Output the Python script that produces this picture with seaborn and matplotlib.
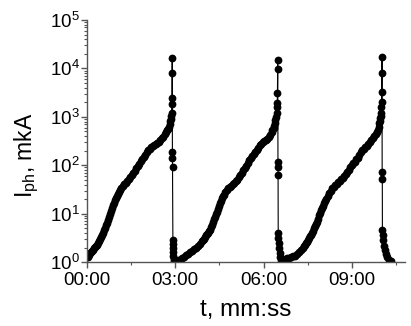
import numpy as np
import pandas as pd
import matplotlib
matplotlib.use("Agg")
import matplotlib.pyplot as plt
import matplotlib.ticker as mticker
import seaborn as sns

# ---- data: time in seconds, photocurrent given as log10(I / mkA) ----
t1 = [0, 2.0, 4.1, 6.1, 8.1, 10.2, 12.2, 14.2, 16.3, 18.3, 20.3, 22.4, 24.4, 26.4, 28.5, 30.5,
      32.5, 34.6, 36.6, 38.6, 40.7, 42.7, 44.7, 46.8, 48.8, 50.9, 52.9, 54.9, 57.0, 59.0, 61.0,
      63.1, 65.1, 67.1, 70.2, 73.2, 76.3, 79.3, 82.4, 85.4, 88.5, 91.5, 94.6, 97.6, 100.7, 103.7,
      106.8, 109.8, 112.9, 115.9, 119.0, 122.0, 125.1, 128.1, 131.2, 134.2, 137.3, 140.3, 143.4,
      146.4, 149.5, 152.5, 155.6, 158.7, 160.7, 162.7, 164.8, 166.8, 168.8, 169.8, 170.9, 171.9,
      172.9,
      173.2, 173.4, 173.6, 173.8,
      174.0, 174.2, 174.4,
      175.0, 175.2, 175.4, 175.6, 175.8, 176.5, 178.0]
log_i1 = [0.10, 0.11, 0.14, 0.18, 0.21, 0.23, 0.26, 0.29, 0.32, 0.34, 0.36, 0.39, 0.43, 0.47, 0.52, 0.57,
          0.61, 0.66, 0.70, 0.76, 0.80, 0.86, 0.93, 0.99, 1.05, 1.11, 1.18, 1.23, 1.28, 1.33, 1.37,
          1.41, 1.45, 1.48, 1.53, 1.57, 1.61, 1.64, 1.67, 1.71, 1.75, 1.79, 1.84, 1.89, 1.94, 1.98,
          2.02, 2.08, 2.12, 2.18, 2.22, 2.27, 2.31, 2.34, 2.37, 2.40, 2.42, 2.44, 2.46,
          2.48, 2.52, 2.56, 2.59, 2.64, 2.68, 2.72, 2.75, 2.80, 2.86, 2.91, 2.96, 3.01,
          3.07,
          3.26, 3.38, 3.90, 4.21,
          2.27, 2.14, 1.96,
          0.45, 0.37, 0.29, 0.21, 0.12, 0.06, 0.02]

t2 = [181.0, 185.1, 189.2, 193.2, 197.3, 201.4, 205.4, 209.5, 213.6, 217.6, 221.7, 225.8, 229.8,
      233.9, 235.9, 238.0, 240.0, 242.0, 244.1, 246.1, 248.1, 250.2, 252.2, 254.2, 256.3, 258.3,
      260.4, 262.4, 264.4, 266.5, 268.5, 270.5, 272.6, 274.6, 276.6, 278.7, 281.7, 284.8, 287.8,
      290.9, 293.9, 297.0, 300.0, 303.1, 306.1, 309.2, 312.2, 315.3, 318.3, 321.4, 324.4, 327.5,
      330.5, 333.6, 336.6, 339.7, 342.7, 345.8, 348.8, 351.9, 354.9, 358.0, 361.0, 364.1, 367.1,
      370.2, 373.2, 376.3, 378.3, 380.4, 382.4, 383.4, 384.4, 385.4, 386.5,
      387.8, 388.1, 388.4, 388.7, 389.0,
      389.3, 389.5, 389.7,
      390.0, 390.5, 391.0, 392.0, 393.0, 394.5, 396.0]
log_i2 = [0.02, 0.04, 0.05, 0.08, 0.11, 0.14, 0.16, 0.20, 0.23, 0.27, 0.30, 0.34, 0.38,
          0.43, 0.45, 0.48, 0.52, 0.55, 0.58, 0.61, 0.64, 0.67, 0.72, 0.77, 0.82, 0.88,
          0.93, 0.99, 1.04, 1.09, 1.15, 1.22, 1.27, 1.32, 1.36, 1.39, 1.44, 1.48, 1.52,
          1.55, 1.58, 1.61, 1.64, 1.67, 1.70, 1.75, 1.79, 1.85, 1.90, 1.94, 1.99, 2.04,
          2.10, 2.14, 2.19, 2.23, 2.27, 2.31, 2.36, 2.41, 2.44, 2.47, 2.51, 2.53, 2.55,
          2.58, 2.62, 2.68, 2.72, 2.76, 2.82, 2.87, 2.93, 2.99, 3.07,
          3.20, 3.28, 3.49, 3.98, 4.17,
          2.06, 1.96, 1.79,
          0.60, 0.50, 0.39, 0.29, 0.19, 0.10, 0.04]

t3 = [400.7, 404.8, 408.8, 412.9, 417.0, 421.0, 425.1, 429.2, 433.2, 437.3, 440.4, 443.4, 445.5,
      447.5, 449.5, 451.5, 453.6, 455.6, 457.7, 459.7, 461.7, 463.8, 465.8, 467.8, 469.9, 471.9,
      473.9, 476.0, 478.0, 480.0, 482.1, 484.1, 486.1, 488.2, 491.2, 494.3, 497.3, 500.4, 503.4,
      506.5, 509.5, 512.6, 515.6, 518.7, 521.7, 524.8, 527.8, 530.9, 533.9, 537.0, 540.0, 543.1,
      546.1, 549.2, 552.2, 555.3, 558.3, 561.4, 564.4, 567.5, 570.5, 573.6, 576.6, 579.7, 582.7,
      585.8, 588.8, 590.9, 592.9, 594.9, 595.9, 597.0, 598.0, 599.0, 600.0,
      600.5, 600.8, 601.1, 601.4, 601.7,
      602.0, 602.3,
      602.5, 603.5, 604.5, 606.0, 607.5, 609.0, 611.0, 615.0, 620.0]
log_i3 = [0.04, 0.06, 0.08, 0.09, 0.10, 0.12, 0.13, 0.16, 0.21, 0.25, 0.29, 0.33, 0.36,
          0.39, 0.42, 0.45, 0.49, 0.53, 0.56, 0.60, 0.65, 0.70, 0.74, 0.78, 0.82, 0.90,
          0.97, 1.02, 1.07, 1.11, 1.16, 1.22, 1.27, 1.31, 1.36, 1.42, 1.47, 1.52, 1.56,
          1.59, 1.62, 1.65, 1.68, 1.71, 1.74, 1.77, 1.81, 1.86, 1.90, 1.96, 2.00, 2.04,
          2.07, 2.12, 2.16, 2.22, 2.27, 2.31, 2.34, 2.37, 2.40, 2.44, 2.48, 2.53, 2.56,
          2.60, 2.64, 2.68, 2.73, 2.80, 2.87, 2.92, 2.97, 3.02, 3.07,
          3.20, 3.30, 3.51, 3.90, 4.23,
          1.86, 1.71,
          0.66, 0.56, 0.45, 0.33, 0.25, 0.17, 0.10, 0.04, 0.02]

x_ticks = [0, 180, 360, 540]
x_labels = ["00:00", "03:00", "06:00", "09:00"]

df = pd.DataFrame({"t": t1 + t2 + t3,
                   "I": 10.0 ** np.array(log_i1 + log_i2 + log_i3)})

plt.rcParams["font.family"] = ["Liberation Sans", "DejaVu Sans"]
plt.rcParams["mathtext.fontset"] = "custom"
plt.rcParams["mathtext.rm"] = "Liberation Sans"
plt.rcParams["mathtext.it"] = "Liberation Sans:italic"
plt.rcParams["mathtext.default"] = "regular"

fig = plt.figure(figsize=(4.11, 3.26), dpi=100)
ax = fig.add_axes([0.2117, 0.196, 0.773, 0.7427])

sns.lineplot(data=df, x="t", y="I", sort=False, estimator=None, ax=ax,
             color="black", linewidth=0.8, marker="o", markersize=5.6,
             markeredgewidth=0, markerfacecolor="black")

ax.set_yscale("log")
ax.set_ylim(1, 1e5)
ax.set_xlim(0, 648)

ax.set_xticks(x_ticks)
ax.set_xticklabels(x_labels)
ax.xaxis.set_minor_locator(mticker.FixedLocator([90, 270, 450, 630]))
ax.yaxis.set_major_locator(mticker.LogLocator(base=10, numticks=10))
ax.yaxis.set_minor_locator(mticker.LogLocator(base=10, subs=np.arange(2, 10), numticks=10))
ax.yaxis.set_minor_formatter(mticker.NullFormatter())

spine_col = "#555555"
for s in ["top", "right"]:
    ax.spines[s].set_visible(False)
for s in ["left", "bottom"]:
    ax.spines[s].set_color(spine_col)
    ax.spines[s].set_linewidth(1.0)

ax.tick_params(axis="both", which="major", direction="out", length=4, width=1,
               color=spine_col, labelsize=13.5)
ax.tick_params(axis="y", which="major", pad=1)
ax.tick_params(axis="x", which="major", pad=3)
ax.tick_params(axis="both", which="minor", direction="out", length=2, width=0.8,
               color=spine_col)

ax.set_xlabel("t, mm:ss", fontsize=17.5, labelpad=7)
ax.set_ylabel(r"$I_{ph}$, mkA", fontsize=16.5)
ax.yaxis.set_label_coords(-0.145, 0.44)

fig.savefig("out.png", dpi=100)
